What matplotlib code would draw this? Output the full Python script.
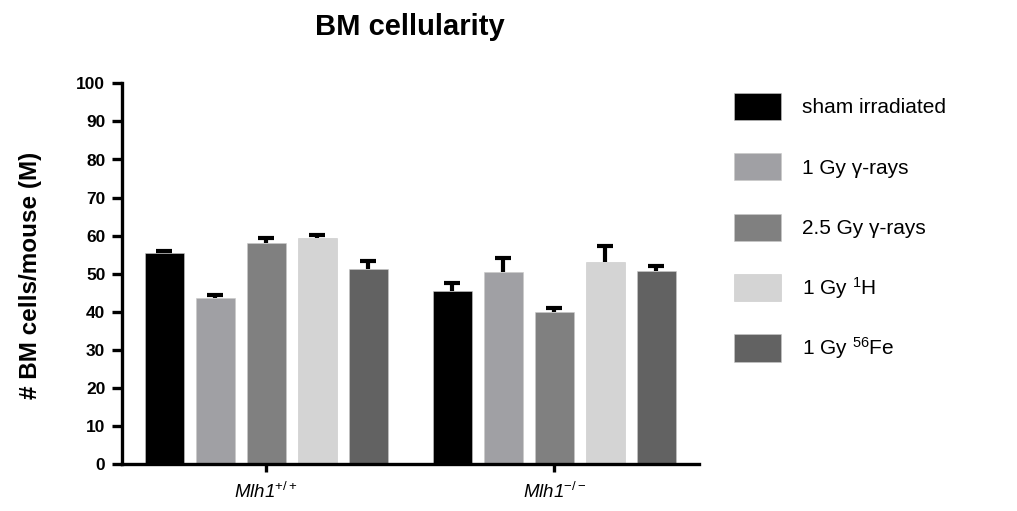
import numpy as np
import matplotlib
matplotlib.use("Agg")
import matplotlib.pyplot as plt

plt.rcParams['font.family'] = ['Liberation Sans', 'DejaVu Sans']
plt.rcParams['mathtext.fontset'] = 'custom'
plt.rcParams['mathtext.rm'] = 'Liberation Sans'
plt.rcParams['mathtext.it'] = 'Liberation Sans:italic'
plt.rcParams['mathtext.bf'] = 'Liberation Sans:bold'

# data
groups = [r'Mlh1$^{+/+}$', r'Mlh1$^{-/-}$']
treatments = ['sham irradiated', '1 Gy γ-rays', '2.5 Gy γ-rays',
              r'1 Gy $^{1}$H', r'1 Gy $^{56}$Fe']
colors = ['#000000', '#a0a0a4', '#808080', '#d4d4d4', '#626262']

sham = [55.5, 45.4]
gamma_1 = [43.6, 50.4]
gamma_25 = [58.1, 40.0]
proton_1 = [59.4, 53.1]
iron_1 = [51.3, 50.8]

sham_err = [0.6, 2.1]
gamma_1_err = [0.8, 3.8]
gamma_25_err = [1.2, 1.05]
proton_1_err = [0.8, 4.1]
iron_1_err = [2.1, 1.3]

means = [sham, gamma_1, gamma_25, proton_1, iron_1]
errs = [sham_err, gamma_1_err, gamma_25_err, proton_1_err, iron_1_err]

yticks = np.arange(0, 101, 10)

fig = plt.figure(figsize=(10.17, 5.11), dpi=100)
ax = fig.add_axes([122 / 1017, 1 - 464.3 / 511, (699 - 122) / 1017, (464.3 - 83.3) / 511])

group_gap = 5.65
bar_w = 0.765
centers = np.arange(len(groups)) * group_gap

for i, (vals, e) in enumerate(zip(means, errs)):
    x = centers + (i - 2)
    ax.bar(x, vals, width=bar_w, color=colors[i], edgecolor='#c8c8c8',
           linewidth=0.4, label=treatments[i], zorder=2)
    eb = ax.errorbar(x, vals, yerr=[np.zeros(len(e)), e], fmt='none', ecolor='black',
                     elinewidth=3, capsize=5.5, capthick=3, zorder=3)
    # only the upper cap is drawn (one-sided SEM bars)
    eb[1][0].set_visible(False)

ax.set_xlim(-2.824, 8.49)
ax.set_ylim(0, 100)
ax.set_yticks(yticks)
ax.set_yticklabels([str(t) for t in yticks], fontsize=12.5, fontweight='bold')
ax.set_xticks(centers)
ax.set_xticklabels(groups, fontsize=13.5, fontstyle='italic')

for s in ['top', 'right']:
    ax.spines[s].set_visible(False)
for s in ['left', 'bottom']:
    ax.spines[s].set_linewidth(2.4)
ax.tick_params(axis='y', length=7, width=2.4, pad=5)
ax.tick_params(axis='x', length=6, width=2.4, pad=7)

fig.text(410 / 1017, 1 - 35 / 511, 'BM cellularity', ha='center', va='baseline',
         fontsize=21, fontweight='bold')
fig.text(31 / 1017, 1 - 275 / 511, '# BM cells/mouse (M)', rotation=90,
         ha='center', va='center', fontsize=17.5, fontweight='bold')

leg = ax.legend(loc='upper left', bbox_to_anchor=(734 / 1017, 1 - 93 / 511),
                bbox_transform=fig.transFigure, frameon=False, fontsize=15,
                handlelength=2.26, handleheight=1.62, handletextpad=1.0,
                labelspacing=1.6, borderpad=0, borderaxespad=0)

fig.savefig('out.png', dpi=100)
